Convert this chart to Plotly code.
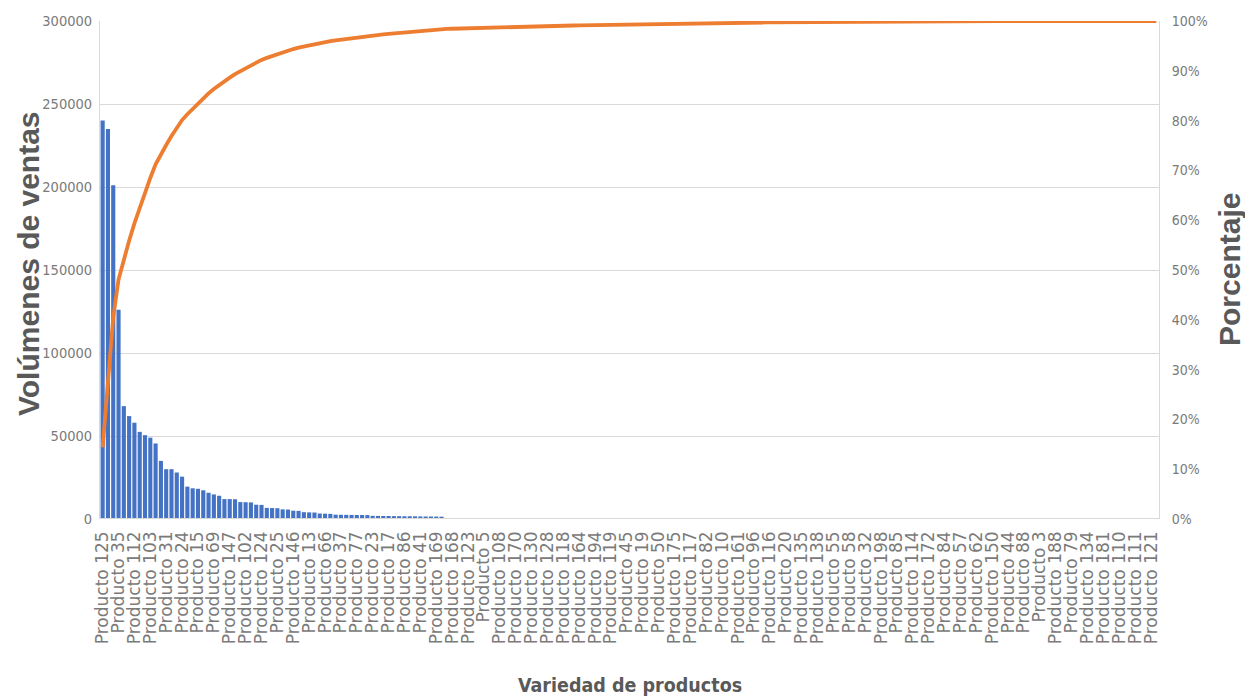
import plotly.graph_objects as go

# Product numbers in Pareto order (highest sales first)
productos = [
    125, 1, 2, 35, 4, 6, 112, 7, 8, 103, 9, 11, 31, 12, 14, 24, 16, 18, 15, 21, 22,
    69, 26, 27, 147, 28, 29, 102, 30, 33, 124, 34, 36, 25, 38, 39, 146, 40, 42,
    13, 43, 46, 66, 47, 48, 37, 49, 51, 77, 52, 53, 23, 54, 56, 17, 59, 60,
    86, 61, 63, 41, 64, 65, 169, 67, 68, 168, 70, 71, 123, 72, 73, 5, 74, 75,
    108, 76, 78, 170, 80, 81, 130, 83, 87, 128, 89, 90, 118, 91, 92, 164, 93, 94,
    194, 95, 97, 119, 98, 99, 45, 100, 101, 19, 104, 105, 50, 106, 107,
    175, 109, 113, 117, 115, 120, 82, 122, 126, 10, 127, 129, 161, 131, 132,
    96, 133, 136, 116, 137, 139, 20, 140, 141, 135, 142, 143, 138, 144, 145,
    55, 148, 149, 58, 151, 152, 32, 153, 154, 198, 155, 156, 85, 157, 158,
    114, 159, 160, 172, 162, 163, 84, 165, 166, 57, 167, 171, 62, 173, 174,
    150, 176, 177, 44, 178, 179, 88, 180, 182, 3, 183, 184, 188, 185, 186,
    79, 187, 189, 134, 190, 191, 181, 192, 193, 110, 195, 196, 111, 197, 199,
    121, 200,
]

# Sales volume per product, same order
ventas = [
    240000, 235000, 201000, 126000, 68000, 62000, 58000, 52500, 50500, 49000,
    45500, 35000, 30000, 30000, 28000, 25500, 19500, 18500, 18200, 17300,
    15800, 14800, 14000, 12000, 12000, 11900, 10200, 10100, 10000, 8600,
    8500, 6700, 6600, 6500, 5800, 5700, 5000, 4900, 4100, 4000,
    3900, 3300, 3200, 3100, 2600, 2550, 2500, 2450, 2400, 2400,
    2350, 1900, 1850, 1800, 1800, 1750, 1700, 1650, 1650, 1600,
    1550, 1500, 1500, 1450, 1400, 600, 590, 580, 570, 560,
    550, 540, 530, 520, 510, 500, 490, 480, 470, 460,
    440, 430, 425, 420, 415, 410, 405, 400, 395, 390,
    385, 380, 375, 370, 365, 360, 350, 345, 340, 335,
    320, 315, 310, 300, 295, 290, 285, 280, 275, 270,
    265, 260, 255, 250, 245, 240, 235, 230, 225, 220,
    215, 210, 200, 190, 185, 180, 175, 170, 165, 160,
    155, 150, 145, 140, 135, 130, 125, 120, 118, 115,
    112, 110, 108, 105, 102, 100, 98, 95, 92, 90,
    88, 85, 82, 80, 78, 75, 72, 70, 68, 65,
    62, 60, 58, 55, 52, 50, 48, 46, 44, 42,
    40, 38, 36, 34, 32, 30, 29, 28, 27, 26,
    25, 24, 23, 22, 21, 20, 19, 18, 17, 16,
    15, 14, 13, 12, 12, 11, 11, 10, 10, 10,
]

categorias = [f"Producto {n}" for n in productos]
# Every third product carries a visible axis label
etiquetas = categorias[::3]

# Cumulative share of total sales
total = sum(ventas)
acumulado = []
suma = 0
for v in ventas:
    suma += v
    acumulado.append(suma / total)

GRIS_TEXTO = "#595959"
GRIS_TICK = "#7a7a7a"
GRIS_LINEA = "#d9d9d9"
FUENTE_NUM = "DejaVu Sans Condensed, Liberation Sans, sans-serif"

fig = go.Figure()
fig.add_trace(go.Bar(
    x=categorias, y=ventas, marker=dict(color="#4472C4", line=dict(width=0)),
    yaxis="y", showlegend=False,
))
fig.add_trace(go.Scatter(
    x=categorias, y=acumulado, mode="lines",
    line=dict(color="#ED7D31", width=3.8), yaxis="y2", showlegend=False,
))

L, R, T, B = 100, 86, 21, 181
W, H = 1245, 700
pw, ph = W - L - R, H - T - B

def px_to_paper(px, py):
    return (px - L) / pw, (H - B - py) / ph

fig.update_layout(
    width=W, height=H,
    margin=dict(l=L, r=R, t=T, b=B, autoexpand=False),
    paper_bgcolor="white", plot_bgcolor="white",
    bargap=0.22,
    xaxis=dict(
        type="category", range=[-0.5, len(categorias) - 0.5],
        tickmode="array", tickvals=etiquetas, ticktext=etiquetas,
        tickangle=-90, ticks="", ticklabelstandoff=8,
        tickfont=dict(family="DejaVu Sans, sans-serif", size=17, color=GRIS_TICK),
        showline=False, showgrid=False, zeroline=False, automargin=False,
    ),
    yaxis=dict(
        range=[0, 300000], dtick=50000, tickformat="d",
        tickfont=dict(family=FUENTE_NUM, size=14.5, color=GRIS_TICK),
        ticks="", ticklabelstandoff=4,
        showgrid=True, gridcolor=GRIS_LINEA, gridwidth=1,
        showline=True, linecolor=GRIS_LINEA, linewidth=1,
        zeroline=False, automargin=False,
    ),
    yaxis2=dict(
        overlaying="y", side="right", range=[0, 1], dtick=0.1, tickformat=".0%",
        tickfont=dict(family=FUENTE_NUM, size=14, color=GRIS_TICK),
        ticks="", ticklabelstandoff=9,
        showgrid=False, showline=True, linecolor=GRIS_LINEA, linewidth=1,
        zeroline=False, automargin=False,
    ),
    # baseline rule drawn over the bars, like the category axis line
    shapes=[dict(
        type="line", xref="paper", yref="y", x0=0, x1=1, y0=0, y1=0,
        line=dict(color=GRIS_LINEA, width=2), layer="above",
    )],
)

ax, ay = px_to_paper(28, 264)
bx, by = px_to_paper(1229, 270)
cx, cy = px_to_paper(630, 685)
fig.add_annotation(
    text="<b>Volúmenes de ventas</b>", xref="paper", yref="paper",
    x=ax, y=ay, xanchor="center", yanchor="middle", textangle=-90, showarrow=False,
    font=dict(family="Liberation Sans, Arial, sans-serif", size=30, color=GRIS_TEXTO),
)
fig.add_annotation(
    text="<b>Porcentaje</b>", xref="paper", yref="paper",
    x=bx, y=by, xanchor="center", yanchor="middle", textangle=-90, showarrow=False,
    font=dict(family="Liberation Sans, Arial, sans-serif", size=30, color=GRIS_TEXTO),
)
fig.add_annotation(
    text="<b>Variedad de productos</b>", xref="paper", yref="paper",
    x=cx, y=cy, xanchor="center", yanchor="middle", showarrow=False,
    font=dict(family=FUENTE_NUM, size=19.5, color=GRIS_TEXTO),
)

fig.write_html("out.html")
